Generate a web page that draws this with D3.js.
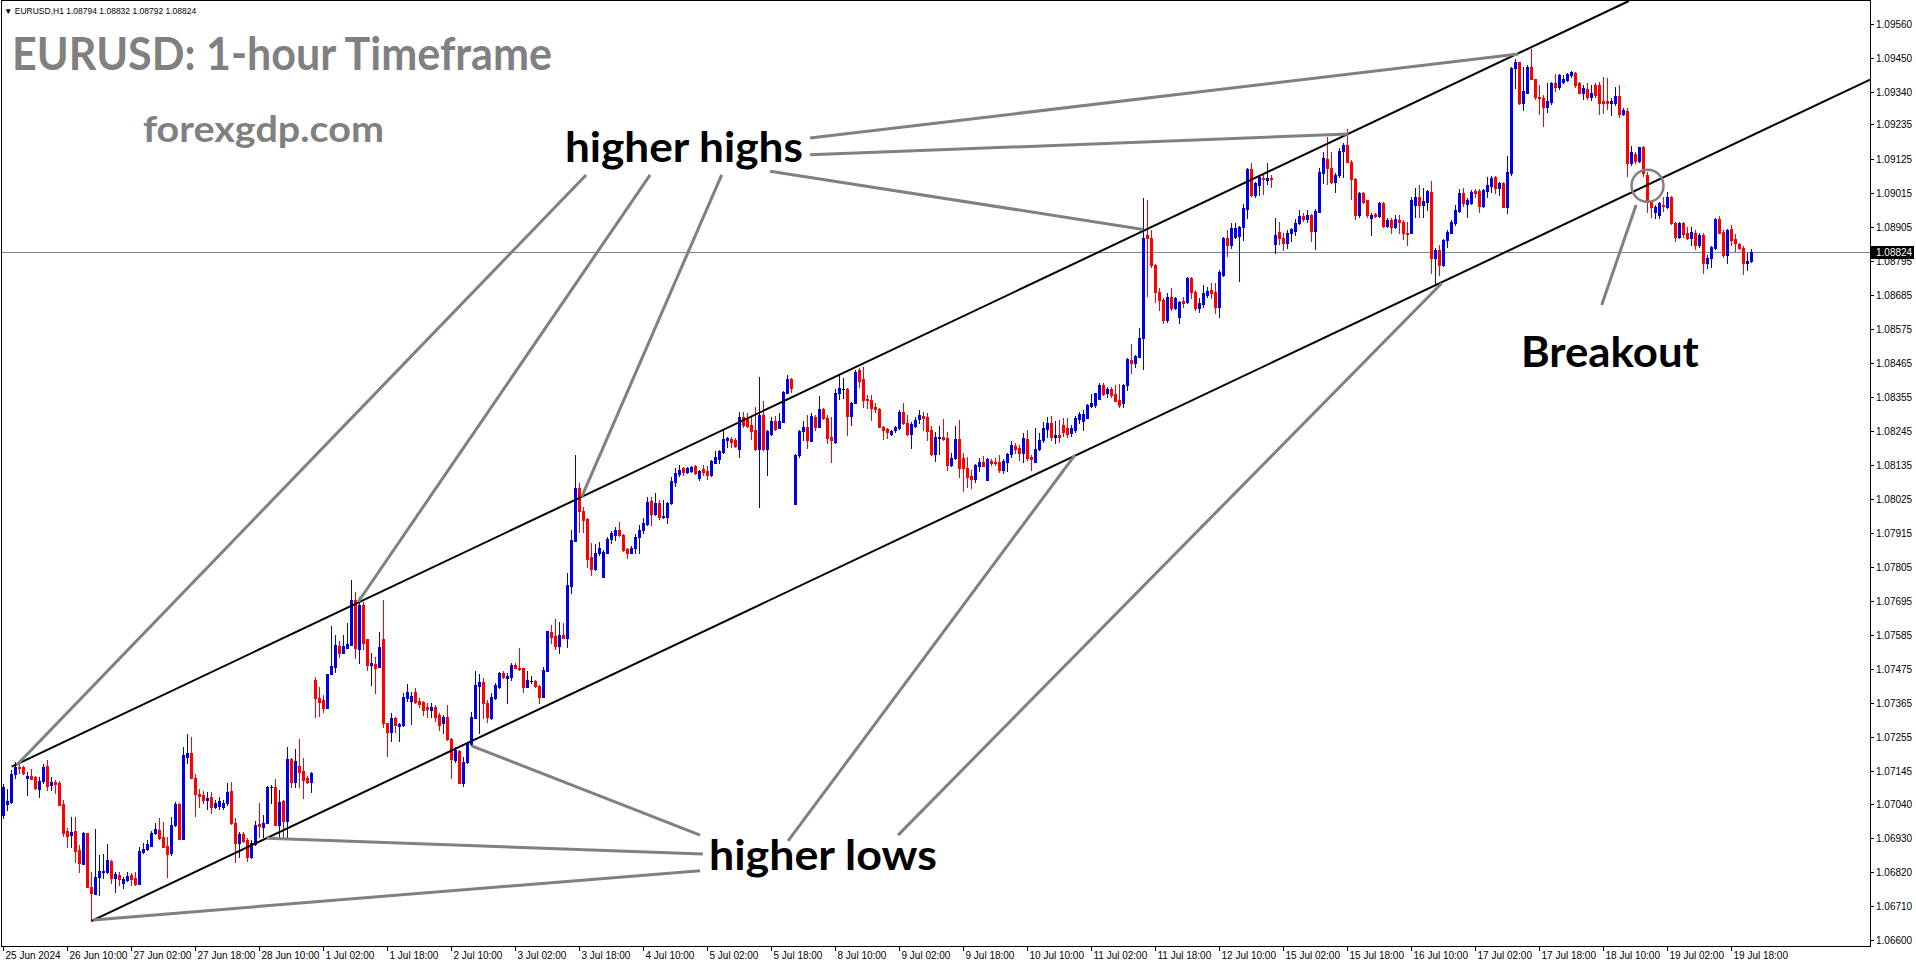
<!DOCTYPE html>
<html><head><meta charset="utf-8">
<script src="https://cdn.jsdelivr.net/npm/d3@7"></script>
<style>html,body{margin:0;padding:0;background:#fff;overflow:hidden}svg{display:block}</style>
</head><body>
<svg id="c" width="1916" height="964"></svg>
<script>
// ---- DATA (EURUSD H1, 25 Jun 18:00 .. 19 Jul 23:00) ----
const opens = [
1.07004,1.07039,1.07046,1.07136,1.07159,1.07159,1.07123,1.07130,1.07126,1.07088,
1.07114,1.07163,1.07101,1.07111,1.07107,1.07039,1.06952,1.06939,1.06952,1.06891,
1.06846,1.06945,1.06771,1.06749,1.06803,1.06820,1.06820,1.06856,1.06800,1.06810,
1.06784,1.06794,1.06810,1.06800,1.06781,1.06885,1.06894,1.06904,1.06945,1.06955,
1.06932,1.06904,1.06881,1.06972,1.07039,1.06926,1.07191,1.07204,1.07123,1.07072,
1.07069,1.07052,1.07062,1.07029,1.07033,1.07029,1.07042,1.07082,1.06978,1.06913,
1.06942,1.06923,1.06868,1.06910,1.06975,1.06965,1.06978,1.07094,1.07094,1.06972,
1.07049,1.06985,1.07185,1.07111,1.07163,1.07146,1.07123,1.07111,1.07440,1.07382,
1.07376,1.07350,1.07459,1.07482,1.07550,1.07527,1.07543,1.07553,1.07699,1.07540,
1.07683,1.07573,1.07489,1.07492,1.07482,1.07573,1.07301,1.07273,1.07317,1.07292,
1.07295,1.07382,1.07373,1.07402,1.07373,1.07370,1.07353,1.07343,1.07353,1.07327,
1.07301,1.07320,1.07250,1.07182,1.07211,1.07107,1.07176,1.07233,1.07317,1.07421,
1.07434,1.07366,1.07317,1.07382,1.07417,1.07462,1.07446,1.07449,1.07489,1.07479,
1.07479,1.07417,1.07437,1.07437,1.07421,1.07385,1.07469,1.07596,1.07583,1.07550,
1.07586,1.07576,1.07744,1.07889,1.08060,1.07986,1.07960,1.07837,1.07799,1.07850,
1.07773,1.07850,1.07896,1.07909,1.07925,1.07909,1.07863,1.07850,1.07866,1.07902,
1.07925,1.07944,1.08019,1.07976,1.08012,1.07966,1.07966,1.08012,1.08080,1.08106,
1.08125,1.08113,1.08116,1.08132,1.08093,1.08122,1.08116,1.08103,1.08141,1.08154,
1.08177,1.08216,1.08219,1.08216,1.08187,1.08290,1.08284,1.08264,1.08248,1.08187,
1.08297,1.08187,1.08235,1.08277,1.08254,1.08274,1.08367,1.08413,1.08009,1.08167,
1.08245,1.08257,1.08213,1.08290,1.08257,1.08316,1.08287,1.08225,1.08210,1.08367,
1.08381,1.08381,1.08294,1.08335,1.08442,1.08413,1.08348,1.08345,1.08322,1.08316,
1.08257,1.08251,1.08235,1.08248,1.08254,1.08307,1.08270,1.08235,1.08261,1.08284,
1.08294,1.08290,1.08248,1.08170,1.08222,1.08225,1.08222,1.08135,1.08157,1.08219,
1.08157,1.08125,1.08100,1.08090,1.08132,1.08145,1.08086,1.08148,1.08145,1.08145,
1.08119,1.08145,1.08170,1.08197,1.08190,1.08173,1.08219,1.08160,1.08145,1.08187,
1.08216,1.08251,1.08270,1.08225,1.08232,1.08264,1.08254,1.08238,1.08248,1.08284,
1.08277,1.08287,1.08326,1.08329,1.08348,1.08394,1.08367,1.08381,1.08364,1.08345,
1.08335,1.08394,1.08474,1.08464,1.08483,1.08545,1.08878,1.08868,1.08781,1.08694,
1.08668,1.08603,1.08677,1.08642,1.08613,1.08665,1.08662,1.08739,1.08694,1.08642,
1.08655,1.08684,1.08700,1.08694,1.08645,1.08749,1.08868,1.08846,1.08871,1.08875,
1.08903,1.08962,1.09091,1.09007,1.09040,1.09062,1.09056,1.09062,1.08849,1.08888,
1.08868,1.08852,1.08884,1.08891,1.08916,1.08940,1.08930,1.08943,1.08891,1.08953,
1.09078,1.09124,1.09094,1.09050,1.09072,1.09150,1.09169,1.09114,1.09059,1.08943,
1.09013,1.08991,1.08933,1.08946,1.08940,1.08981,1.08907,1.08926,1.08903,1.08926,
1.08920,1.08884,1.08884,1.08975,1.09000,1.08975,1.08985,1.09017,1.08804,1.08830,
1.08781,1.08862,1.08884,1.08916,1.08956,1.09013,1.08978,1.08981,1.09020,1.09020,
1.08972,1.09020,1.09037,1.09065,1.09030,1.09046,1.08968,1.09078,1.09417,1.09437,
1.09304,1.09337,1.09420,1.09382,1.09324,1.09321,1.09291,1.09308,1.09369,1.09356,
1.09373,1.09379,1.09395,1.09401,1.09369,1.09337,1.09350,1.09324,1.09363,1.09363,
1.09311,1.09311,1.09304,1.09304,1.09328,1.09269,1.09279,1.09110,1.09140,1.09117,
1.09162,1.09072,1.08985,1.08953,1.08943,1.08975,1.08968,1.09000,1.08916,1.08871,
1.08916,1.08884,1.08868,1.08884,1.08846,1.08878,1.08787,1.08804,1.08836,1.08930,
1.08888,1.08814,1.08897,1.08865,1.08849,1.08836,1.08787,1.08794];
const highs = [
1.07104,1.07088,1.07149,1.07176,1.07169,1.07163,1.07143,1.07153,1.07130,1.07126,
1.07169,1.07182,1.07126,1.07117,1.07114,1.07052,1.06962,1.06997,1.06997,1.06907,
1.06949,1.06945,1.06820,1.06959,1.06875,1.06878,1.06910,1.06859,1.06820,1.06820,
1.06803,1.06820,1.06816,1.06820,1.06900,1.06913,1.06923,1.06952,1.06978,1.06994,
1.06982,1.06932,1.06997,1.07046,1.07042,1.07223,1.07266,1.07256,1.07136,1.07088,
1.07082,1.07079,1.07079,1.07052,1.07062,1.07052,1.07107,1.07111,1.06994,1.06949,
1.06949,1.06929,1.06923,1.06985,1.07042,1.07004,1.07098,1.07101,1.07120,1.07085,
1.07052,1.07223,1.07188,1.07217,1.07250,1.07188,1.07130,1.07143,1.07449,1.07417,
1.07392,1.07459,1.07615,1.07586,1.07566,1.07586,1.07624,1.07763,1.07725,1.07708,
1.07693,1.07573,1.07527,1.07514,1.07596,1.07699,1.07301,1.07333,1.07320,1.07301,
1.07398,1.07427,1.07402,1.07414,1.07382,1.07373,1.07366,1.07366,1.07360,1.07333,
1.07327,1.07360,1.07253,1.07223,1.07214,1.07191,1.07240,1.07337,1.07469,1.07459,
1.07446,1.07376,1.07398,1.07430,1.07466,1.07469,1.07462,1.07495,1.07495,1.07543,
1.07479,1.07469,1.07453,1.07440,1.07424,1.07482,1.07599,1.07618,1.07637,1.07628,
1.07624,1.07786,1.07925,1.08167,1.08076,1.07999,1.07963,1.07882,1.07879,1.07886,
1.07860,1.07902,1.07922,1.07934,1.07951,1.07912,1.07866,1.07873,1.07912,1.07941,
1.07963,1.08031,1.08031,1.08044,1.08022,1.08022,1.08016,1.08096,1.08125,1.08135,
1.08128,1.08128,1.08132,1.08135,1.08119,1.08135,1.08132,1.08151,1.08180,1.08183,
1.08248,1.08225,1.08225,1.08222,1.08307,1.08307,1.08303,1.08290,1.08322,1.08419,
1.08342,1.08248,1.08290,1.08294,1.08303,1.08374,1.08426,1.08416,1.08170,1.08248,
1.08277,1.08297,1.08303,1.08297,1.08358,1.08319,1.08297,1.08290,1.08381,1.08426,
1.08416,1.08384,1.08339,1.08442,1.08448,1.08451,1.08361,1.08361,1.08335,1.08319,
1.08261,1.08254,1.08248,1.08261,1.08313,1.08335,1.08297,1.08274,1.08290,1.08313,
1.08307,1.08303,1.08261,1.08242,1.08261,1.08284,1.08242,1.08173,1.08261,1.08280,
1.08173,1.08160,1.08119,1.08138,1.08157,1.08164,1.08157,1.08154,1.08157,1.08167,
1.08154,1.08173,1.08213,1.08206,1.08200,1.08238,1.08248,1.08167,1.08254,1.08238,
1.08274,1.08290,1.08294,1.08277,1.08280,1.08287,1.08287,1.08264,1.08294,1.08307,
1.08313,1.08332,1.08364,1.08367,1.08400,1.08400,1.08387,1.08387,1.08394,1.08397,
1.08397,1.08480,1.08526,1.08490,1.08577,1.08997,1.08991,1.08894,1.08784,1.08707,
1.08674,1.08690,1.08707,1.08677,1.08665,1.08677,1.08742,1.08742,1.08700,1.08674,
1.08717,1.08710,1.08723,1.08723,1.08765,1.08871,1.08894,1.08916,1.08916,1.08907,
1.08978,1.09094,1.09110,1.09050,1.09072,1.09075,1.09110,1.09072,1.08933,1.08920,
1.08884,1.08894,1.08900,1.08930,1.08959,1.08949,1.08959,1.08946,1.08962,1.09094,
1.09147,1.09194,1.09147,1.09078,1.09159,1.09175,1.09221,1.09120,1.09062,1.09017,
1.09017,1.08991,1.08949,1.08949,1.08985,1.08985,1.08933,1.08933,1.08943,1.08943,
1.08926,1.08920,1.09000,1.09030,1.09040,1.09030,1.09023,1.09053,1.08836,1.08846,
1.08865,1.08894,1.08926,1.08975,1.09027,1.09030,1.08997,1.09023,1.09027,1.09027,
1.09027,1.09065,1.09069,1.09069,1.09050,1.09050,1.09134,1.09420,1.09447,1.09437,
1.09420,1.09427,1.09479,1.09382,1.09363,1.09331,1.09369,1.09373,1.09398,1.09398,
1.09395,1.09401,1.09408,1.09405,1.09373,1.09363,1.09369,1.09363,1.09369,1.09373,
1.09388,1.09385,1.09321,1.09356,1.09363,1.09288,1.09288,1.09166,1.09147,1.09162,
1.09166,1.09082,1.08991,1.08975,1.08985,1.09000,1.09017,1.09004,1.08920,1.08920,
1.08920,1.08903,1.08903,1.08894,1.08884,1.08884,1.08814,1.08843,1.08933,1.08940,
1.08894,1.08897,1.08910,1.08881,1.08852,1.08843,1.08820,1.08832];
const lows = [
1.06994,1.07020,1.07042,1.07123,1.07139,1.07136,1.07069,1.07120,1.07088,1.07062,
1.07107,1.07085,1.07085,1.07075,1.07036,1.06936,1.06900,1.06900,1.06853,1.06820,
1.06846,1.06771,1.06662,1.06749,1.06746,1.06800,1.06816,1.06784,1.06756,1.06778,
1.06768,1.06791,1.06778,1.06778,1.06781,1.06881,1.06891,1.06904,1.06942,1.06926,
1.06900,1.06803,1.06875,1.06969,1.06926,1.06926,1.07172,1.07123,1.07001,1.07029,
1.07042,1.07023,1.07010,1.07026,1.07023,1.07023,1.07036,1.06975,1.06853,1.06868,
1.06917,1.06856,1.06865,1.06907,1.06932,1.06932,1.06978,1.07042,1.06972,1.06929,
1.06929,1.06929,1.07094,1.07094,1.07094,1.07059,1.07107,1.07079,1.07320,1.07324,
1.07337,1.07350,1.07459,1.07466,1.07514,1.07527,1.07543,1.07553,1.07511,1.07495,
1.07540,1.07472,1.07424,1.07398,1.07482,1.07288,1.07195,1.07243,1.07273,1.07243,
1.07292,1.07373,1.07298,1.07366,1.07353,1.07327,1.07320,1.07320,1.07308,1.07279,
1.07269,1.07246,1.07123,1.07176,1.07107,1.07098,1.07172,1.07230,1.07317,1.07269,
1.07317,1.07305,1.07314,1.07379,1.07414,1.07446,1.07366,1.07440,1.07479,1.07472,
1.07402,1.07417,1.07430,1.07417,1.07366,1.07385,1.07469,1.07559,1.07540,1.07527,
1.07576,1.07546,1.07721,1.07889,1.07919,1.07919,1.07805,1.07780,1.07796,1.07844,
1.07773,1.07850,1.07882,1.07892,1.07906,1.07857,1.07834,1.07850,1.07850,1.07850,
1.07915,1.07941,1.07941,1.07973,1.07960,1.07963,1.07947,1.08009,1.08067,1.08100,
1.08103,1.08109,1.08113,1.08106,1.08086,1.08103,1.08090,1.08100,1.08141,1.08141,
1.08173,1.08193,1.08193,1.08193,1.08160,1.08257,1.08257,1.08219,1.08183,1.07999,
1.08183,1.08103,1.08232,1.08248,1.08254,1.08274,1.08367,1.08371,1.08009,1.08160,
1.08216,1.08190,1.08213,1.08248,1.08257,1.08284,1.08206,1.08145,1.08206,1.08348,
1.08351,1.08232,1.08264,1.08335,1.08387,1.08322,1.08319,1.08280,1.08307,1.08257,
1.08219,1.08222,1.08232,1.08242,1.08251,1.08267,1.08232,1.08190,1.08257,1.08270,
1.08248,1.08216,1.08167,1.08148,1.08170,1.08216,1.08119,1.08132,1.08154,1.08096,
1.08051,1.08063,1.08060,1.08080,1.08116,1.08132,1.08086,1.08135,1.08135,1.08113,
1.08109,1.08116,1.08160,1.08173,1.08151,1.08145,1.08151,1.08119,1.08145,1.08183,
1.08210,1.08225,1.08216,1.08206,1.08210,1.08229,1.08225,1.08229,1.08242,1.08270,
1.08248,1.08287,1.08322,1.08322,1.08348,1.08361,1.08354,1.08354,1.08342,1.08322,
1.08322,1.08377,1.08432,1.08451,1.08483,1.08445,1.08681,1.08774,1.08662,1.08636,
1.08593,1.08597,1.08636,1.08639,1.08593,1.08645,1.08658,1.08674,1.08636,1.08630,
1.08645,1.08677,1.08674,1.08626,1.08613,1.08746,1.08811,1.08836,1.08868,1.08730,
1.08862,1.08933,1.09004,1.09000,1.09007,1.09010,1.09043,1.09033,1.08820,1.08849,
1.08830,1.08836,1.08859,1.08878,1.08913,1.08923,1.08920,1.08859,1.08833,1.08953,
1.09046,1.09043,1.09046,1.09017,1.09065,1.09065,1.09114,1.08994,1.08930,1.08936,
1.08981,1.08936,1.08878,1.08936,1.08936,1.08903,1.08903,1.08884,1.08900,1.08884,
1.08865,1.08846,1.08884,1.08936,1.08936,1.08936,1.08959,1.08755,1.08717,1.08749,
1.08778,1.08839,1.08884,1.08910,1.08953,1.08972,1.08936,1.08978,1.09000,1.08953,
1.08968,1.09000,1.09017,1.09013,1.09007,1.08968,1.08949,1.09072,1.09353,1.09301,
1.09282,1.09337,1.09382,1.09318,1.09269,1.09231,1.09276,1.09301,1.09344,1.09350,
1.09369,1.09376,1.09388,1.09356,1.09337,1.09318,1.09318,1.09314,1.09324,1.09269,
1.09272,1.09285,1.09266,1.09298,1.09259,1.09266,1.09069,1.09104,1.09110,1.09114,
1.09069,1.08953,1.08936,1.08933,1.08933,1.08956,1.08965,1.08913,1.08859,1.08868,
1.08871,1.08865,1.08846,1.08833,1.08839,1.08755,1.08771,1.08774,1.08833,1.08884,
1.08807,1.08787,1.08846,1.08827,1.08833,1.08752,1.08765,1.08792];
const closes = [
1.07094,1.07049,1.07136,1.07159,1.07156,1.07139,1.07130,1.07120,1.07091,1.07114,
1.07159,1.07098,1.07111,1.07104,1.07036,1.06945,1.06936,1.06949,1.06888,1.06849,
1.06945,1.06771,1.06752,1.06803,1.06823,1.06823,1.06859,1.06800,1.06813,1.06797,
1.06797,1.06807,1.06797,1.06781,1.06888,1.06894,1.06910,1.06945,1.06959,1.06929,
1.06900,1.06878,1.06972,1.07039,1.06926,1.07198,1.07204,1.07123,1.07072,1.07066,
1.07052,1.07059,1.07029,1.07042,1.07049,1.07042,1.07079,1.06978,1.06913,1.06942,
1.06920,1.06868,1.06913,1.06972,1.06969,1.06978,1.07094,1.07094,1.06972,1.07046,
1.06985,1.07185,1.07111,1.07179,1.07143,1.07117,1.07111,1.07139,1.07382,1.07370,
1.07350,1.07459,1.07486,1.07553,1.07527,1.07550,1.07556,1.07699,1.07543,1.07683,
1.07559,1.07489,1.07495,1.07479,1.07546,1.07301,1.07273,1.07317,1.07295,1.07298,
1.07385,1.07402,1.07389,1.07370,1.07363,1.07343,1.07347,1.07353,1.07320,1.07295,
1.07320,1.07250,1.07185,1.07214,1.07107,1.07176,1.07236,1.07320,1.07424,1.07434,
1.07366,1.07320,1.07385,1.07424,1.07462,1.07449,1.07453,1.07489,1.07479,1.07476,
1.07417,1.07440,1.07437,1.07421,1.07385,1.07472,1.07599,1.07579,1.07550,1.07586,
1.07576,1.07747,1.07892,1.08060,1.07986,1.07957,1.07831,1.07799,1.07850,1.07866,
1.07854,1.07896,1.07915,1.07925,1.07909,1.07860,1.07850,1.07866,1.07902,1.07925,
1.07947,1.08016,1.07976,1.08012,1.07966,1.07970,1.08012,1.08083,1.08109,1.08119,
1.08113,1.08125,1.08128,1.08109,1.08116,1.08113,1.08103,1.08148,1.08160,1.08180,
1.08219,1.08222,1.08210,1.08197,1.08290,1.08264,1.08261,1.08245,1.08187,1.08297,
1.08187,1.08245,1.08277,1.08251,1.08277,1.08371,1.08413,1.08384,1.08167,1.08245,
1.08257,1.08216,1.08294,1.08257,1.08316,1.08287,1.08222,1.08216,1.08367,1.08384,
1.08381,1.08294,1.08335,1.08436,1.08407,1.08345,1.08345,1.08319,1.08316,1.08257,
1.08248,1.08242,1.08245,1.08257,1.08307,1.08270,1.08235,1.08267,1.08280,1.08297,
1.08287,1.08245,1.08170,1.08225,1.08225,1.08219,1.08135,1.08157,1.08219,1.08125,
1.08125,1.08096,1.08090,1.08135,1.08145,1.08132,1.08154,1.08141,1.08141,1.08119,
1.08148,1.08170,1.08200,1.08187,1.08173,1.08222,1.08157,1.08154,1.08187,1.08216,
1.08254,1.08270,1.08225,1.08232,1.08225,1.08242,1.08235,1.08254,1.08287,1.08300,
1.08300,1.08329,1.08335,1.08367,1.08394,1.08364,1.08381,1.08361,1.08342,1.08329,
1.08394,1.08477,1.08464,1.08487,1.08545,1.08868,1.08868,1.08781,1.08694,1.08668,
1.08603,1.08677,1.08642,1.08674,1.08662,1.08658,1.08739,1.08694,1.08642,1.08658,
1.08690,1.08697,1.08690,1.08645,1.08759,1.08868,1.08846,1.08900,1.08900,1.08903,
1.08965,1.09091,1.09007,1.09046,1.09065,1.09059,1.09062,1.09059,1.08878,1.08868,
1.08852,1.08884,1.08897,1.08916,1.08940,1.08930,1.08943,1.08891,1.08956,1.09082,
1.09127,1.09094,1.09050,1.09072,1.09150,1.09169,1.09114,1.09059,1.08943,1.09013,
1.08985,1.08943,1.08943,1.08940,1.08981,1.08907,1.08926,1.08903,1.08930,1.08920,
1.08884,1.08881,1.08991,1.09000,1.08975,1.08988,1.09020,1.08804,1.08830,1.08781,
1.08862,1.08888,1.08920,1.08959,1.09013,1.08981,1.08991,1.09017,1.09013,1.08972,
1.09023,1.09040,1.09062,1.09030,1.09046,1.08968,1.09082,1.09417,1.09437,1.09304,
1.09344,1.09420,1.09382,1.09324,1.09321,1.09291,1.09311,1.09369,1.09356,1.09395,
1.09382,1.09398,1.09405,1.09363,1.09337,1.09353,1.09324,1.09337,1.09331,1.09304,
1.09304,1.09304,1.09311,1.09328,1.09269,1.09282,1.09110,1.09147,1.09117,1.09162,
1.09078,1.08985,1.08968,1.08968,1.08981,1.08972,1.09000,1.08916,1.08871,1.08916,
1.08881,1.08868,1.08888,1.08846,1.08878,1.08787,1.08804,1.08839,1.08930,1.08884,
1.08814,1.08894,1.08862,1.08852,1.08836,1.08787,1.08794,1.08824];

const timeLabels = ["25 Jun 2024","26 Jun 10:00","27 Jun 02:00","27 Jun 18:00","28 Jun 10:00","1 Jul 02:00","1 Jul 18:00","2 Jul 10:00","3 Jul 02:00","3 Jul 18:00","4 Jul 10:00","5 Jul 02:00","5 Jul 18:00","8 Jul 10:00","9 Jul 02:00","9 Jul 18:00","10 Jul 10:00","11 Jul 02:00","11 Jul 18:00","12 Jul 10:00","15 Jul 02:00","15 Jul 18:00","16 Jul 10:00","17 Jul 02:00","17 Jul 18:00","18 Jul 10:00","19 Jul 02:00","19 Jul 18:00"];
const timeLabelBars = [0,16,32,48,64,80,96,112,128,144,160,176,192,208,224,240,256,272,288,304,320,336,352,368,384,400,416,432];
const priceTicks = ["1.09560","1.09450","1.09340","1.09235","1.09125","1.09015","1.08905","1.08795","1.08685","1.08575","1.08465","1.08355","1.08245","1.08135","1.08025","1.07915","1.07805","1.07695","1.07585","1.07475","1.07365","1.07255","1.07145","1.07040","1.06930","1.06820","1.06710","1.06600"];
const lastPrice = 1.08824;
const headerText = "\u25BC EURUSD,H1  1.08794 1.08832 1.08792 1.08824";

// channel trendlines [barIndex, price]
const channelUpper = [[2.1, 1.07160], [406.4, 1.09634]];
const channelLower = [[22.1, 1.06662], [466.7, 1.09380]];
// annotation pointer lines [barIndex, price]
const pointerLines = [
  [[145.7, 1.09072], [3.35, 1.07165]],
  [[161.7, 1.09072], [88.75, 1.07693]],
  [[179.6, 1.09072], [144.6, 1.08032]],
  [[191.7, 1.09084], [285.0, 1.08896]],
  [[201.7, 1.09137], [336.25, 1.09204]],
  [[201.7, 1.09191], [378.75, 1.09463]],
  [[174.2, 1.06939], [117.1, 1.07227]],
  [[174.9, 1.06878], [65.85, 1.06929]],
  [[174.2, 1.06824], [22.5, 1.06665]],
  [[196.2, 1.06920], [267.9, 1.08167]],
  [[223.7, 1.06939], [359.6, 1.08722]],
  [[399.6, 1.08652], [408.2, 1.08975]]
];
const breakoutCircle = [411.05, 1.09037];
const annotations = [
  {text: "higher highs", bar: 140.4, price: 1.09114, width: 238},
  {text: "higher lows", bar: 176.4, price: 1.06826, width: 228},
  {text: "Breakout", bar: 379.4, price: 1.08451, width: 178}
];

// ---- LAYOUT ----
const W = 1916, H = 964;
const plotL = 1, plotR = 1870, plotT = 0, plotB = 946;
const svg = d3.select("#c");
svg.append("rect").attr("width", W).attr("height", H).attr("fill", "#fff");

const n = opens.length;
const xs = d3.scaleLinear().domain([0, n - 1]).range([3.3, 3.3 + 4 * (n - 1)]);
const ys = d3.scaleLinear().domain([1.066, 1.0956]).range([940, 23.9]);

svg.append("defs").append("clipPath").attr("id", "plotclip")
  .append("rect").attr("x", plotL).attr("y", plotT).attr("width", plotR - plotL).attr("height", plotB - plotT);

const g = svg.append("g").attr("clip-path", "url(#plotclip)");

// current price line
const yl = Math.round(ys(lastPrice)) + 0.5;
g.append("line").attr("x1", plotL).attr("x2", plotR).attr("y1", yl).attr("y2", yl)
  .attr("stroke", "#778899").attr("stroke-width", 1);

// candles
const bars = d3.range(n).map(i => ({i, o: opens[i], h: highs[i], l: lows[i], c: closes[i]}));
const col = d => d.c > d.o ? "#0000e6" : (d.c < d.o ? "#ff0000" : "#000000");
const wTop = d => Math.round(ys(Math.max(d.h, d.o, d.c)));
const wBot = d => Math.round(ys(Math.min(d.l, d.o, d.c)));
g.append("g").selectAll("rect").data(bars).join("rect")
  .attr("x", d => Math.floor(xs(d.i))).attr("width", 1)
  .attr("y", wTop).attr("height", d => Math.max(1, wBot(d) - wTop(d) + 1))
  .attr("fill", col);
const bTop = d => Math.round(ys(Math.max(d.o, d.c)));
const bBot = d => Math.round(ys(Math.min(d.o, d.c)));
g.append("g").selectAll("rect").data(bars).join("rect")
  .attr("x", d => Math.floor(xs(d.i)) - 1).attr("width", 3)
  .attr("y", bTop).attr("height", d => Math.max(1, bBot(d) - bTop(d) + 1))
  .attr("fill", col);

// channel lines
const lineGen = d3.line().x(p => xs(p[0])).y(p => ys(p[1]));
[channelUpper, channelLower].forEach(seg => {
  g.append("path").attr("d", lineGen(seg)).attr("stroke", "#000").attr("stroke-width", 2).attr("fill", "none");
});
// pointer lines
pointerLines.forEach(seg => {
  g.append("path").attr("d", lineGen(seg)).attr("stroke", "#808080").attr("stroke-width", 3).attr("fill", "none");
});
g.append("circle").attr("cx", xs(breakoutCircle[0])).attr("cy", ys(breakoutCircle[1])).attr("r", 16)
  .attr("fill", "none").attr("stroke", "#808080").attr("stroke-width", 2.5);

// annotation text
annotations.forEach(a => {
  svg.append("text").attr("x", xs(a.bar)).attr("y", ys(a.price))
    .attr("font-family", "Lato, 'Open Sans', sans-serif").attr("font-weight", 700).attr("font-size", 42)
    .attr("fill", "#000").attr("textLength", a.width).attr("lengthAdjust", "spacingAndGlyphs").text(a.text);
});

// title & site
svg.append("text").attr("x", 12).attr("y", 70)
  .attr("font-family", "Lato, 'Open Sans', sans-serif").attr("font-weight", 700).attr("font-size", 45)
  .attr("fill", "#808080").attr("textLength", 540).attr("lengthAdjust", "spacingAndGlyphs")
  .text("EURUSD: 1-hour Timeframe");
svg.append("text").attr("x", 143).attr("y", 142)
  .attr("font-family", "Lato, 'Open Sans', sans-serif").attr("font-weight", 700).attr("font-size", 36)
  .attr("fill", "#808080").attr("textLength", 241).attr("lengthAdjust", "spacingAndGlyphs")
  .text("forexgdp.com");

// header
svg.append("text").attr("x", 4).attr("y", 14)
  .attr("font-family", "'Liberation Sans', Arial, sans-serif").attr("font-size", 8.5).attr("fill", "#000")
  .text(headerText);

// frame / axes
svg.append("rect").attr("x", 1.5).attr("y", 0.5).attr("width", plotR - 1).attr("height", plotB)
  .attr("fill", "none").attr("stroke", "#000").attr("stroke-width", 1);

// price axis
const axG = svg.append("g").attr("font-family", "'Liberation Sans', Arial, sans-serif").attr("font-size", 10);
priceTicks.forEach(t => {
  const yy = Math.round(ys(+t)) + 0.5;
  axG.append("line").attr("x1", plotR + 0.5).attr("x2", plotR + 4).attr("y1", yy).attr("y2", yy).attr("stroke", "#000");
  axG.append("text").attr("x", plotR + 6).attr("y", yy + 3.5).attr("fill", "#000").text(t);
});
// last price tag
axG.append("rect").attr("x", plotR + 1).attr("y", yl - 6.5).attr("width", 43).attr("height", 13).attr("fill", "#000");
axG.append("text").attr("x", plotR + 6).attr("y", yl + 3.5).attr("fill", "#fff").text(lastPrice.toFixed(5));

// time axis
timeLabelBars.forEach((b, j) => {
  const xx = Math.floor(xs(b)) + 0.5;
  axG.append("line").attr("x1", xx).attr("x2", xx).attr("y1", plotB + 0.5).attr("y2", plotB + 5).attr("stroke", "#000");
  axG.append("text").attr("x", xx + 2).attr("y", plotB + 12.5).attr("fill", "#000").text(timeLabels[j]);
});
</script>
</body></html>
